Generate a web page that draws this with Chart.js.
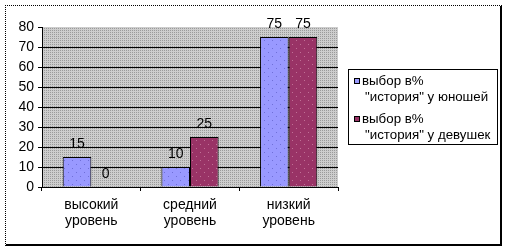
<!DOCTYPE html>
<html>
<head>
<meta charset="utf-8">
<script src="https://cdn.jsdelivr.net/npm/chart.js@4.4.1/dist/chart.umd.min.js"></script>
<style>
  html, body { margin: 0; padding: 0; background: #fff; }
  #wrap { position: relative; width: 508px; height: 251px; }
  #frame { position: absolute; left: 5px; top: 5px; width: 497px; height: 241px;
           border-top: 1px dotted #000; border-left: 1px dotted #000;
           border-right: 2px solid #000; border-bottom: 2px solid #000; box-sizing: border-box; }
  canvas { position: absolute; left: 0; top: 0; }
</style>
</head>
<body>
<div id="wrap">
  <div id="frame"></div>
  <canvas id="chart" width="508" height="251"></canvas>
</div>
<script>
// data
const categories = [['высокий', 'уровень'], ['средний', 'уровень'], ['низкий', 'уровень']];
const boysValues = [15, 10, 75];
const girlsValues = [0, 25, 75];
const seriesLabels = [['выбор в%', '"история" у юношей'], ['выбор в%', '"история" у девушек']];
const yTicks = [0, 10, 20, 30, 40, 50, 60, 70, 80];

const FONT_FAMILY = 'Arial, "Liberation Sans", sans-serif';
const FONT = '14px ' + FONT_FAMILY;
const LEGEND_FONT = '13.3px ' + FONT_FAMILY;

function makePattern(base, dot, step) {
  let c = document.createElement('canvas');
  c.width = step; c.height = step;
  let g = c.getContext('2d');
  g.fillStyle = base;
  g.fillRect(0, 0, step, step);
  g.fillStyle = dot;
  if (step == 2) {
    g.fillRect(0, 0, 1, 1);
  } else {
    g.fillRect(0, 0, 1, 1);
    g.fillRect(step / 2, step / 2, 1, 1);
  }
  return g.createPattern(c, 'repeat');
}

const bgPattern = makePattern('#cdcdcd', '#9a9a9a', 2);
const bluePattern = makePattern('#9999ff', '#6f6fd8', 8);
const redPattern = makePattern('#993366', '#c07096', 8);

const plotBackground = {
  id: 'plotBackground',
  beforeDraw(chart) {
    let a = chart.chartArea;
    let ctx = chart.ctx;
    ctx.save();
    ctx.fillStyle = bgPattern;
    ctx.fillRect(a.left, a.top, a.right - a.left, a.bottom - a.top);
    ctx.restore();
  }
};

const valueLabels = {
  id: 'valueLabels',
  afterDatasetsDraw(chart) {
    let ctx = chart.ctx;
    ctx.save();
    ctx.font = FONT;
    ctx.fillStyle = '#000';
    ctx.textAlign = 'center';
    ctx.textBaseline = 'middle';
    chart.data.datasets.forEach((ds, i) => {
      chart.getDatasetMeta(i).data.forEach((bar, j) => {
        ctx.fillText(String(ds.data[j]), bar.x, bar.y - 13);
      });
    });
    ctx.restore();
  }
};

const boxLegend = {
  id: 'boxLegend',
  afterDraw(chart) {
    let ctx = chart.ctx;
    let x = 348, y = 69, w = 149, h = 75;
    ctx.save();
    ctx.fillStyle = '#fff';
    ctx.fillRect(x, y, w, h);
    ctx.strokeStyle = '#000';
    ctx.lineWidth = 1;
    ctx.strokeRect(x + 0.5, y + 0.5, w, h);
    ctx.font = LEGEND_FONT;
    ctx.textBaseline = 'middle';
    ctx.textAlign = 'left';
    chart.data.datasets.forEach((ds, i) => {
      let ly = y + 12 + i * 38;
      ctx.fillStyle = ds.legendColor;
      ctx.fillRect(x + 6, ly - 3, 6, 6);
      ctx.strokeStyle = '#000';
      ctx.strokeRect(x + 6.5, ly - 2.5, 5, 5);
      ctx.fillStyle = '#000';
      ctx.fillText(ds.label[0], x + 14, ly);
      ctx.fillText(ds.label[1], x + 17, ly + 16);
    });
    ctx.restore();
  }
};

const chart_setup = {
  type: 'bar',
  data: {
    labels: categories,
    datasets: [{
      label: seriesLabels[0],
      data: boysValues,
      backgroundColor: bluePattern,
      legendColor: '#9999ff',
      borderColor: '#000',
      borderWidth: 1,
      borderSkipped: 'bottom'
    }, {
      label: seriesLabels[1],
      data: girlsValues,
      backgroundColor: redPattern,
      legendColor: '#993366',
      borderColor: '#000',
      borderWidth: 1,
      borderSkipped: 'bottom'
    }]
  },
  options: {
    responsive: false,
    animation: false,
    datasets: {
      bar: { categoryPercentage: 0.58, barPercentage: 1 }
    },
    layout: { padding: { left: 0, top: 27, right: 170, bottom: 20 } },
    plugins: {
      legend: { display: false },
      tooltip: { enabled: false }
    },
    scales: {
      x: {
        afterFit(scale) { scale.height = 44; },
        grid: { offset: true, drawOnChartArea: false, tickLength: 4, color: '#000' },
        border: { color: '#000' },
        ticks: { color: '#000', font: { family: FONT_FAMILY, size: 14, lineHeight: 1.15 }, padding: 6, maxRotation: 0 }
      },
      y: {
        min: 0,
        max: 80,
        afterFit(scale) { scale.width = 42; },
        afterBuildTicks(scale) { scale.ticks = yTicks.map(v => ({ value: v })); },
        grid: {
          color: ctx => (ctx.tick && ctx.tick.value == 80) ? 'rgba(0,0,0,0)' : '#000',
          tickColor: '#000',
          tickLength: 4
        },
        border: { color: '#000' },
        ticks: { color: '#000', font: { family: FONT_FAMILY, size: 14 }, padding: 4 }
      }
    }
  },
  plugins: [plotBackground, valueLabels, boxLegend]
};

new Chart(document.getElementById('chart'), chart_setup);
</script>
</body>
</html>
